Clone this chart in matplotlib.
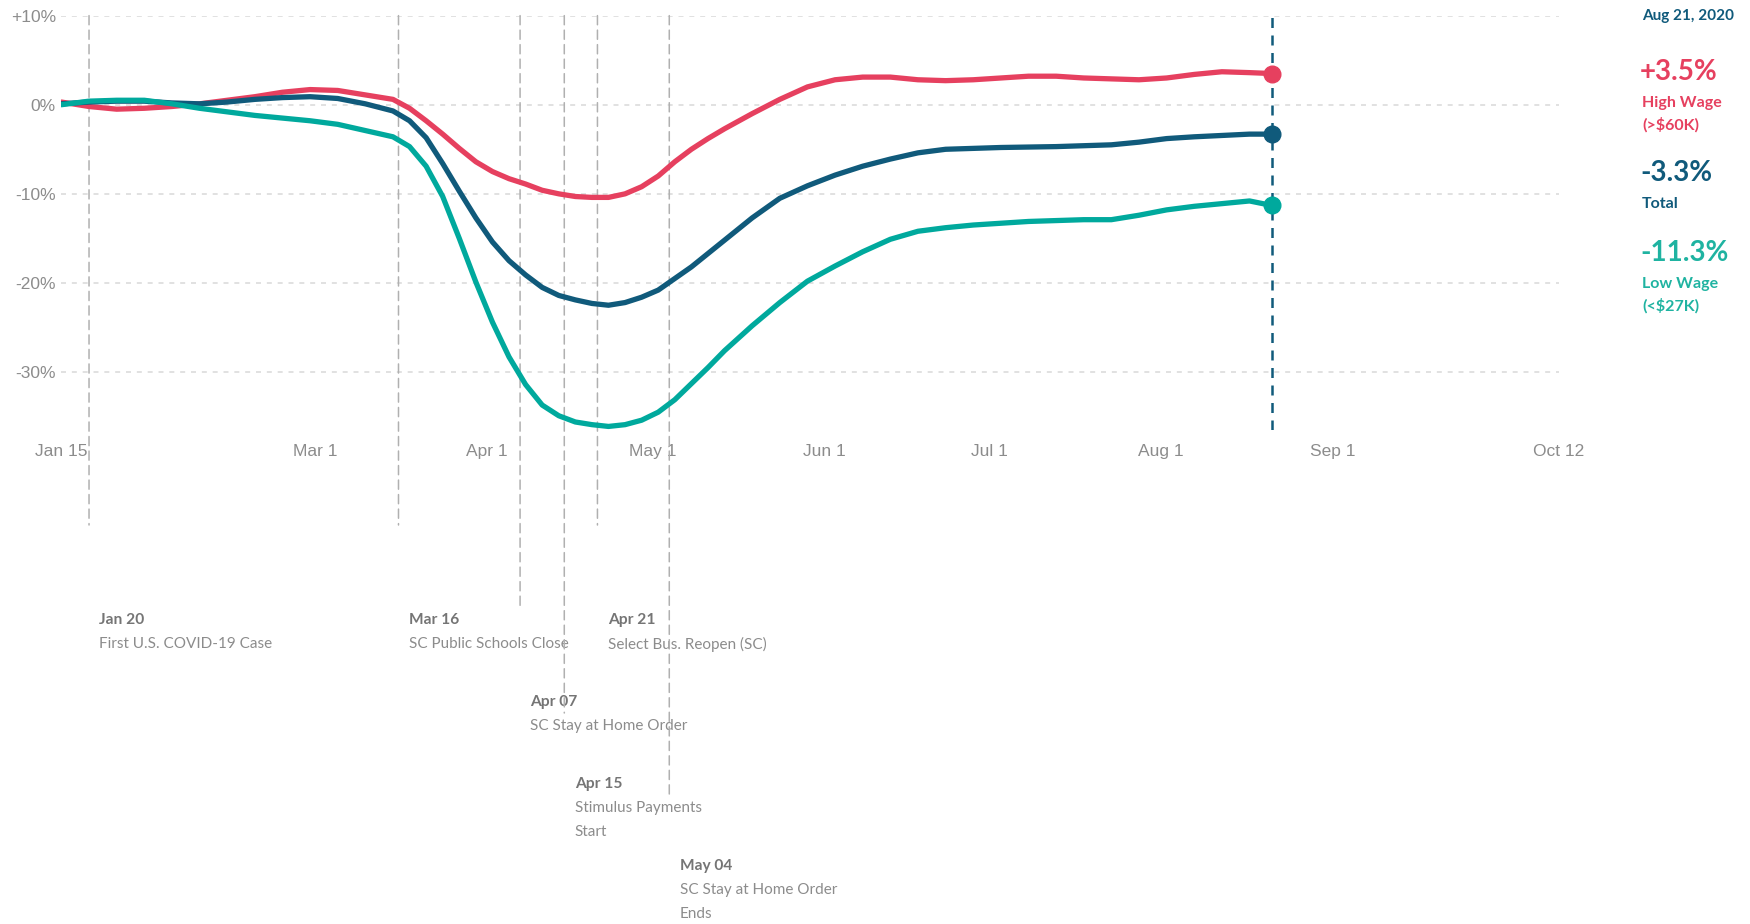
import matplotlib
matplotlib.use('Agg')
import matplotlib.pyplot as plt
import pandas as pd

# series, % change vs Jan 15 baseline
dates = ['2020-01-15', '2020-01-20', '2020-01-25', '2020-01-30', '2020-02-04', '2020-02-09',
         '2020-02-14', '2020-02-19', '2020-02-24', '2020-02-29', '2020-03-05', '2020-03-10',
         '2020-03-15', '2020-03-18', '2020-03-21', '2020-03-24', '2020-03-27', '2020-03-30',
         '2020-04-02', '2020-04-05', '2020-04-08', '2020-04-11', '2020-04-14', '2020-04-17',
         '2020-04-20', '2020-04-23', '2020-04-26', '2020-04-29', '2020-05-02', '2020-05-05',
         '2020-05-08', '2020-05-11', '2020-05-14', '2020-05-19', '2020-05-24', '2020-05-29',
         '2020-06-03', '2020-06-08', '2020-06-13', '2020-06-18', '2020-06-23', '2020-06-28',
         '2020-07-03', '2020-07-08', '2020-07-13', '2020-07-18', '2020-07-23', '2020-07-28',
         '2020-08-02', '2020-08-07', '2020-08-12', '2020-08-17', '2020-08-21']
high_wage = [0.3, -0.2, -0.5, -0.4, -0.2, 0.1, 0.5, 0.9, 1.4, 1.7, 1.6, 1.1,
             0.6, -0.4, -1.8, -3.3, -4.9, -6.4, -7.5, -8.3, -8.9, -9.6, -10.0, -10.3,
             -10.4, -10.4, -10.0, -9.2, -8.0, -6.4, -5.0, -3.8, -2.7, -1.0, 0.6, 2.0,
             2.8, 3.1, 3.1, 2.8, 2.7, 2.8, 3.0, 3.2, 3.2, 3.0, 2.9, 2.8,
             3.0, 3.4, 3.7, 3.6, 3.5]
total = [0.1, 0.3, 0.4, 0.4, 0.2, 0.1, 0.3, 0.6, 0.8, 0.9, 0.7, 0.1,
         -0.7, -1.8, -3.7, -6.6, -9.7, -12.7, -15.4, -17.5, -19.1, -20.5, -21.4, -21.9,
         -22.3, -22.5, -22.2, -21.6, -20.8, -19.5, -18.2, -16.7, -15.2, -12.7, -10.5, -9.1,
         -7.9, -6.9, -6.1, -5.4, -5.0, -4.9, -4.8, -4.75, -4.7, -4.6, -4.5, -4.2,
         -3.8, -3.6, -3.45, -3.3, -3.3]
low_wage = [0.0, 0.4, 0.5, 0.5, 0.1, -0.4, -0.8, -1.2, -1.5, -1.8, -2.2, -2.9,
            -3.6, -4.7, -6.9, -10.3, -15.0, -19.9, -24.4, -28.3, -31.4, -33.7, -34.9, -35.6,
            -35.9, -36.1, -35.9, -35.4, -34.5, -33.1, -31.3, -29.5, -27.6, -24.8, -22.2, -19.8,
            -18.1, -16.5, -15.1, -14.2, -13.8, -13.5, -13.3, -13.1, -13.0, -12.9, -12.9, -12.4,
            -11.8, -11.4, -11.1, -10.8, -11.3]

tick_dates = ['2020-01-15', '2020-03-01', '2020-04-01', '2020-05-01', '2020-06-01',
              '2020-07-01', '2020-08-01', '2020-09-01', '2020-10-12']
tick_labels = ['Jan 15', 'Mar 1', 'Apr 1', 'May 1', 'Jun 1', 'Jul 1', 'Aug 1', 'Sep 1', 'Oct 12']
y_ticks = [10, 0, -10, -20, -30]
y_labels = ['+10%', '0%', '-10%', '-20%', '-30%']

event_dates = ['2020-01-20', '2020-03-16', '2020-04-07', '2020-04-15', '2020-04-21', '2020-05-04']
event_titles = ['Jan 20', 'Mar 16', 'Apr 07', 'Apr 15', 'Apr 21', 'May 04']
event_texts = ['First U.S. COVID-19 Case', 'SC Public Schools Close', 'SC Stay at Home Order',
               'Stimulus Payments\nStart', 'Select Bus. Reopen (SC)', 'SC Stay at Home Order\nEnds']

last_date = '2020-08-21'
last_label = 'Aug 21, 2020'
end_labels = ['+3.5%', '-3.3%', '-11.3%']
series_names = ['High Wage\n(>$60K)', 'Total', 'Low Wage\n(<$27K)']

RED = '#e6405f'
NAVY = '#105a7b'
TEAL = '#00a99d'
TEAL_TXT = '#1fb3a1'
GRAY = '#8c8c8c'

W, H = 1750, 924


def fy(px):
    return 1 - px / H


def fx(px):
    return px / W


fig = plt.figure(figsize=(W / 100, H / 100), dpi=100)
ax = fig.add_axes([fx(61.4), fy(430), fx(1559) - fx(61.4), fy(15.6) - fy(430)])

x = pd.to_datetime(dates)
ax.set_xlim(pd.Timestamp('2020-01-15'), pd.Timestamp('2020-10-12'))
ax.set_ylim(-36.5, 10)

for v in y_ticks:
    ax.axhline(v, color='#dcdcdc', lw=1.2, dashes=(3, 3.5), zorder=0)

# event markers reaching down to the notes below the chart
row_px = [620, 620, 702, 784, 620, 866]
end_px = [525, 525, 607, 713, 525, 795]
for d, t, txt, r, e in zip(event_dates, event_titles, event_texts, row_px, end_px):
    dt = pd.Timestamp(d)
    ax.annotate('', xy=(dt, fy(e)), xycoords=('data', 'figure fraction'),
                xytext=(dt, 10), textcoords='data',
                arrowprops=dict(arrowstyle='-', color='#b0b0b0', lw=1.1,
                                linestyle=(0, (6, 3.5)), shrinkA=0, shrinkB=0))
    ax.annotate(t, xy=(dt, fy(r)), xycoords=('data', 'figure fraction'),
                xytext=(7.5, 0), textcoords='offset points', ha='left', va='center',
                fontsize=11.2, fontweight='bold', color='#757575', family='Lato')
    for i, line in enumerate(txt.split('\n')):
        ax.annotate(line, xy=(dt, fy(r + 24 * (i + 1))), xycoords=('data', 'figure fraction'),
                    xytext=(7.5, 0), textcoords='offset points', ha='left', va='center',
                    fontsize=11, color=GRAY, family='Lato')

ax.axvline(pd.Timestamp(last_date), color=NAVY, lw=1.8, dashes=(4, 3), zorder=1)

ax.plot(x, high_wage, color=RED, lw=3.8, solid_capstyle='round', solid_joinstyle='round', zorder=3)
ax.plot(x, total, color=NAVY, lw=3.8, solid_capstyle='round', solid_joinstyle='round', zorder=3)
ax.plot(x, low_wage, color=TEAL, lw=3.8, solid_capstyle='round', solid_joinstyle='round', zorder=3)
for s, c in zip([high_wage, total, low_wage], [RED, NAVY, TEAL]):
    ax.plot(x[-1], s[-1], 'o', color=c, ms=12, zorder=4)

ax.set_xticks(pd.to_datetime(tick_dates))
ax.set_xticklabels(tick_labels)
ax.set_yticks(y_ticks)
ax.set_yticklabels(y_labels)
ax.tick_params(axis='x', length=0, pad=10, labelsize=12.5, labelcolor=GRAY)
ax.tick_params(axis='y', length=0, pad=4, labelsize=12.5, labelcolor=GRAY)
for lab in ax.get_xticklabels() + ax.get_yticklabels():
    lab.set_family('Liberation Sans')
for sp in ax.spines.values():
    sp.set_visible(False)

# right side summary
fig.text(fx(1642), fy(16), last_label, color=NAVY, fontsize=11, fontweight='bold',
         family='Lato', va='center')
value_px = [72, 173, 253]
for lab, name, c, vp in zip(end_labels, series_names, [RED, NAVY, TEAL_TXT], value_px):
    fig.text(fx(1640), fy(vp), lab, color=c, fontsize=20, fontweight='bold',
             family='Lato', va='center')
    for i, line in enumerate(name.split('\n')):
        fig.text(fx(1642), fy(vp + 31 + 22 * i), line, color=c, fontsize=11.5,
                 fontweight='bold', family='Lato', va='center')

fig.savefig('out.png', dpi=100, facecolor='white')
